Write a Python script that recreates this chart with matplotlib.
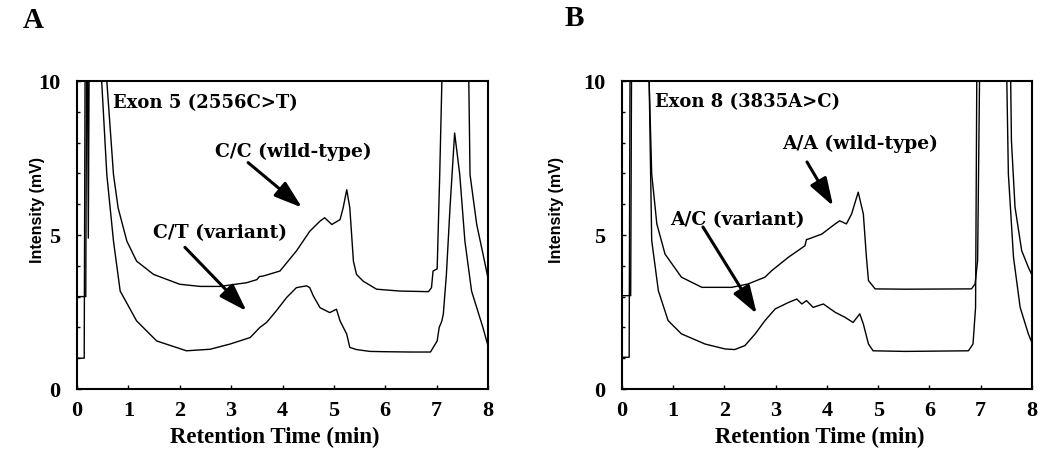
import matplotlib
matplotlib.use("Agg")
import matplotlib.pyplot as plt
from matplotlib.ticker import MultipleLocator

# retention time (min) / intensity (mV)
# values of 12 stand for peaks that run off the top of the frame
a_wt_t = [0, 0.17, 0.19, 0.20, 0.22, 0.24, 0.55, 0.58, 0.71, 0.80, 0.97, 1.16, 1.49, 2.0, 2.4,
          2.78, 3.3, 3.5, 3.55, 3.63, 3.95, 4.27, 4.53, 4.73, 4.82, 4.96, 5.12, 5.18, 5.25,
          5.31, 5.38, 5.44, 5.57, 5.83, 6.28, 6.84, 6.90, 6.93, 7.01, 7.06, 7.13, 7.61, 7.65,
          7.78, 7.90, 8.0]
a_wt_v = [3.0, 3.0, 12, 12, 4.9, 12, 12, 10, 6.96, 5.88, 4.80, 4.15, 3.72, 3.40, 3.33,
          3.33, 3.45, 3.55, 3.65, 3.67, 3.83, 4.48, 5.12, 5.45, 5.56, 5.34, 5.50, 5.88, 6.47,
          5.88, 4.15, 3.72, 3.50, 3.24, 3.18, 3.16, 3.29, 3.83, 3.9, 6.96, 12, 12, 6.96,
          5.34, 4.4, 3.6]

a_var_t = [0, 0.14, 0.16, 0.46, 0.48, 0.58, 0.71, 0.84, 1.16, 1.55, 2.13, 2.59, 2.98, 3.37,
           3.56, 3.69, 3.88, 4.08, 4.27, 4.47, 4.53, 4.60, 4.73, 4.92, 5.05, 5.12, 5.25, 5.31,
           5.44, 5.70, 6.0, 6.5, 6.88, 7.01, 7.05, 7.10, 7.13, 7.19, 7.26, 7.35, 7.45, 7.55,
           7.68, 7.90, 8.0]
a_var_v = [1.0, 1.0, 12, 12, 10, 6.96, 4.80, 3.18, 2.21, 1.56, 1.24, 1.29, 1.46, 1.67,
           2.0, 2.16, 2.54, 2.97, 3.29, 3.35, 3.29, 3.02, 2.64, 2.48, 2.59, 2.21, 1.78, 1.35,
           1.28, 1.22, 1.21, 1.20, 1.20, 1.56, 2.0, 2.2, 2.43, 3.72, 5.88, 8.31, 6.96, 4.80,
           3.18, 2.0, 1.4]

b_wt_t = [0, 0.17, 0.19, 0.50, 0.53, 0.58, 0.68, 0.84, 1.16, 1.56, 2.14, 2.46, 2.79, 2.92,
          3.25, 3.57, 3.60, 3.64, 3.90, 4.16, 4.25, 4.38, 4.48, 4.61, 4.71, 4.77, 4.81, 4.94,
          5.52, 6.82, 6.89, 6.94, 6.99, 7.57, 7.60, 7.67, 7.80, 7.93, 8.0]
b_wt_v = [3.03, 3.03, 12, 12, 10, 6.98, 5.36, 4.38, 3.63, 3.30, 3.30, 3.41, 3.63, 3.84,
          4.28, 4.65, 4.85, 4.87, 5.03, 5.36, 5.46, 5.36, 5.68, 6.39, 5.68, 4.28, 3.52, 3.25,
          3.24, 3.25, 3.41, 4.17, 12, 12, 8.06, 5.90, 4.49, 3.95, 3.7]

b_var_t = [0, 0.14, 0.16, 0.50, 0.53, 0.58, 0.71, 0.90, 1.16, 1.62, 2.01, 2.20, 2.40, 2.60,
           2.79, 2.99, 3.25, 3.41, 3.51, 3.60, 3.73, 3.93, 4.16, 4.35, 4.51, 4.64, 4.71, 4.81,
           4.90, 5.52, 6.76, 6.85, 6.90, 6.93, 7.49, 7.54, 7.64, 7.77, 7.93, 8.0]
b_var_v = [1.03, 1.03, 12, 12, 10, 4.82, 3.19, 2.22, 1.79, 1.46, 1.30, 1.28, 1.41, 1.79,
           2.22, 2.60, 2.81, 2.92, 2.76, 2.87, 2.65, 2.76, 2.49, 2.33, 2.16, 2.44, 2.11, 1.46,
           1.24, 1.22, 1.24, 1.46, 2.65, 12, 12, 6.98, 4.28, 2.65, 1.79, 1.5]

x_ticks = [0, 1, 2, 3, 4, 5, 6, 7, 8]
y_ticks = [0, 5, 10]

serif = "Liberation Serif"
label_font = "DejaVu Serif"

fig = plt.figure(figsize=(10.45, 4.52), dpi=100)
ax_a = fig.add_axes([0.0737, 0.1372, 0.3933, 0.6814])
ax_b = fig.add_axes([0.5952, 0.1372, 0.3923, 0.6814])


def style_axes(ax, ylabel_x):
    ax.set_xlim(0, 8)
    ax.set_ylim(0, 10)
    ax.set_xticks(x_ticks)
    ax.set_yticks(y_ticks)
    ax.yaxis.set_minor_locator(MultipleLocator(1))
    ax.tick_params(which="both", direction="in", width=1, top=False, right=False)
    ax.tick_params(which="major", length=3)
    ax.tick_params(which="minor", length=2)
    ax.tick_params(axis="x", pad=8)
    ax.tick_params(axis="y", pad=12)
    for lab in ax.get_xticklabels() + ax.get_yticklabels():
        lab.set_fontfamily(serif)
        lab.set_fontweight("bold")
        lab.set_fontsize(16)
    for sp in ax.spines.values():
        sp.set_linewidth(1.5)
    ax.set_xlabel("Retention Time (min)", fontfamily=serif, fontweight="bold",
                  fontsize=16.5)
    ax.xaxis.set_label_coords(0.482, -0.153)
    ax.xaxis.label.set_va("center")
    ax.set_ylabel("Intensity (mV)", fontfamily="Liberation Sans", fontweight="bold",
                  fontsize=11.5)
    ax.yaxis.set_label_coords(ylabel_x, 0.584)
    ax.yaxis.label.set_va("center")


def arrow(ax, tail, tip):
    ax.annotate("", xy=tip, xytext=tail,
                arrowprops=dict(arrowstyle="-|>,head_length=0.85,head_width=0.28",
                                color="black", lw=2.2, mutation_scale=20,
                                shrinkA=0, shrinkB=0))


txt = dict(fontfamily=label_font, fontweight="bold", fontsize=13.5,
           ha="left", va="center")

# panel A
ax_a.plot(a_wt_t, a_wt_v, color="black", lw=1.0)
ax_a.plot(a_var_t, a_var_v, color="black", lw=1.0)
style_axes(ax_a, -0.097)
ax_a.text(0.70, 9.3, "Exon 5 (2556C>T)", **dict(txt, fontsize=13))
ax_a.text(2.68, 7.73, "C/C (wild-type)", **txt)
ax_a.text(1.48, 5.11, "C/T (variant)", **txt)
arrow(ax_a, (3.33, 7.35), (4.38, 5.89))
arrow(ax_a, (2.10, 4.6), (3.30, 2.53))

# panel B
ax_b.plot(b_wt_t, b_wt_v, color="black", lw=1.0)
ax_b.plot(b_var_t, b_var_v, color="black", lw=1.0)
style_axes(ax_b, -0.159)
ax_b.text(0.64, 9.35, "Exon 8 (3835A>C)", **dict(txt, fontsize=13))
ax_b.text(3.12, 7.99, "A/A (wild-type)", **txt)
ax_b.text(0.94, 5.52, "A/C (variant)", **txt)
arrow(ax_b, (3.61, 7.37), (4.12, 5.94))
arrow(ax_b, (1.58, 5.26), (2.63, 2.44))

fig.text(33 / 1045, 1 - 20 / 452, "A", fontfamily=serif, fontweight="bold",
         fontsize=21, ha="center", va="center")
fig.text(574 / 1045, 1 - 19 / 452, "B", fontfamily=serif, fontweight="bold",
         fontsize=21, ha="center", va="center")

fig.savefig("out.png", dpi=100)
